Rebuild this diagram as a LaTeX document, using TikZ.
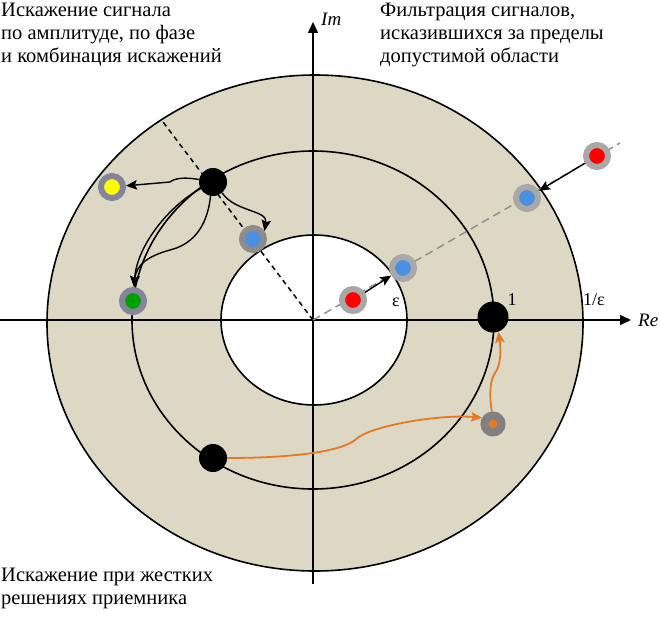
\documentclass[tikz,border=0pt]{standalone}
\usepackage{fontspec}
\setmainfont{Liberation Serif}
\usetikzlibrary{arrows.meta}
\definecolor{beige}{HTML}{DDD8C4}
\definecolor{ringA}{HTML}{A8A8A8}
\definecolor{ringB}{HTML}{8C8C8C}
\definecolor{ringC}{HTML}{84849A}
\definecolor{ringD}{HTML}{808080}
\definecolor{sigblue}{HTML}{4A8FE0}
\definecolor{sigred}{HTML}{FF0000}
\definecolor{sigyellow}{HTML}{FFFF00}
\definecolor{siggreen}{HTML}{00A000}
\definecolor{sigorange}{HTML}{E57A24}
\definecolor{dashgray}{HTML}{8C8C8C}
\begin{document}
\begin{tikzpicture}[x=1pt,y=-1pt,
  sig/.style n args={2}{circle, inner sep=0pt, minimum size=22pt, line width=6pt, draw=#1, fill=#2},
  osig/.style={circle, inner sep=0pt, minimum size=17pt, line width=8pt, draw=ringD, fill=sigorange},
  blk/.style={circle, fill=black, inner sep=0pt, minimum size=28pt},
  arr/.style={-{Stealth[length=11pt,width=9.5pt,inset=2pt]}, line width=1.4pt},
  oarr/.style={arr, color=sigorange, line width=1.8pt},
  axisline/.style={-{Triangle[length=11pt,width=10pt]}, line width=1.5pt},
  ring/.style={line width=1.6pt},
  txt/.style={font=\fontsize{20.5}{23}\selectfont, inner sep=0pt, anchor=base west},
  lbl/.style={font=\fontsize{18}{20}\selectfont, inner sep=0pt}
]
\useasboundingbox (0,0) rectangle (660,618);

% annulus
\draw[ring, fill=beige] (315,323) ellipse [x radius=268pt, y radius=248pt];
\draw[ring, fill=white] (314,320) ellipse [x radius=93pt, y radius=85pt];
\draw[ring] (313,320) ellipse [x radius=181pt, y radius=169pt];

% axes
\coordinate (O) at (313,320);
\coordinate (xs) at (0,320);
\coordinate (xe) at (631,320);
\coordinate (ys) at (313,584);
\coordinate (ye) at (313,22);
\draw[axisline] (xs) -- (xe);
\draw[axisline] (ys) -- (ye);

% dashed lines
\coordinate (dB) at (163,122);
\coordinate (dG) at (620,143);
\draw[line width=1.5pt, dash pattern=on 5pt off 4pt] (O) -- (dB);
\draw[line width=1.4pt, dashgray, dash pattern=on 8pt off 5pt] (O) -- (dG);

% labels
\node[lbl, anchor=base west, font=\fontsize{19}{20}\selectfont\itshape] (im) at (321,26) {Im};
\node[lbl, anchor=base west, font=\fontsize{19}{20}\selectfont\itshape] (re) at (638,326) {Re};
\node[lbl, anchor=base] (eps) at (396,306) {ε};
\node[lbl, anchor=base] (one) at (512,305) {1};
\node[lbl, anchor=base west] (ieps) at (583,305) {1/ε};

% signal points
\node[blk] (Bk1) at (213,182) {};
\node[blk] (Bk2) at (213,458) {};
\node[blk, minimum size=31pt] (K1) at (493,317) {};
\node[sig={ringC}{sigyellow}] (Y) at (112,187) {};
\node[sig={ringB}{sigblue}] (Bl1) at (253,239) {};
\node[sig={ringC}{siggreen}] (G) at (133,301) {};
\node[sig={ringA}{sigred}] (R1) at (353,300) {};
\node[sig={ringA}{sigblue}] (Bl2) at (403,268) {};
\node[sig={ringA}{sigblue}] (Bl3) at (527,198) {};
\node[sig={ringA}{sigred}] (R2) at (597,156) {};
\node[osig] (Or) at (493,424) {};

% arrows
\draw[arr] (R1) -- (Bl2);
\draw[arr] (R2) -- (Bl3);
\draw[arr] (Bk1) .. controls (185,177) and (175,178) .. (170,182) -- (Y);
\draw[arr] (Bk1) .. controls (170,205) and (137,245) .. (G);
\draw[arr] (Bk1.-100) .. controls (207,230) and (190,245) .. (170,250) .. controls (148,256) and (136,265) .. (G);
\draw[arr] (Bk1.-50) .. controls (235,212) and (268,210) .. (Bl1.35);
\draw[oarr] (Bk2) .. controls (290,458) and (340,452) .. (355,440) .. controls (368,426) and (440,414) .. (Or.150);
\draw[oarr] (Or.95) .. controls (489,395) and (490,380) .. (495,373) .. controls (501,365) and (501,350) .. (K1.-70);

% texts
\node[txt] (tl1) at (1,16.5) {Искажение сигнала};
\node[txt] (tl2) at (1,39.5) {по амплитуде, по фазе};
\node[txt] (tl3) at (1,62.5) {и комбинация искажений};
\node[txt] (tr1) at (380,16.5) {Фильтрация сигналов,};
\node[txt] (tr2) at (380,39.5) {исказившихся за пределы};
\node[txt] (tr3) at (380,62.5) {допустимой области};
\node[txt] (bl1) at (1,581.5) {Искажение при жестких};
\node[txt] (bl2) at (1,604) {решениях приемника};
\end{tikzpicture}
\end{document}
